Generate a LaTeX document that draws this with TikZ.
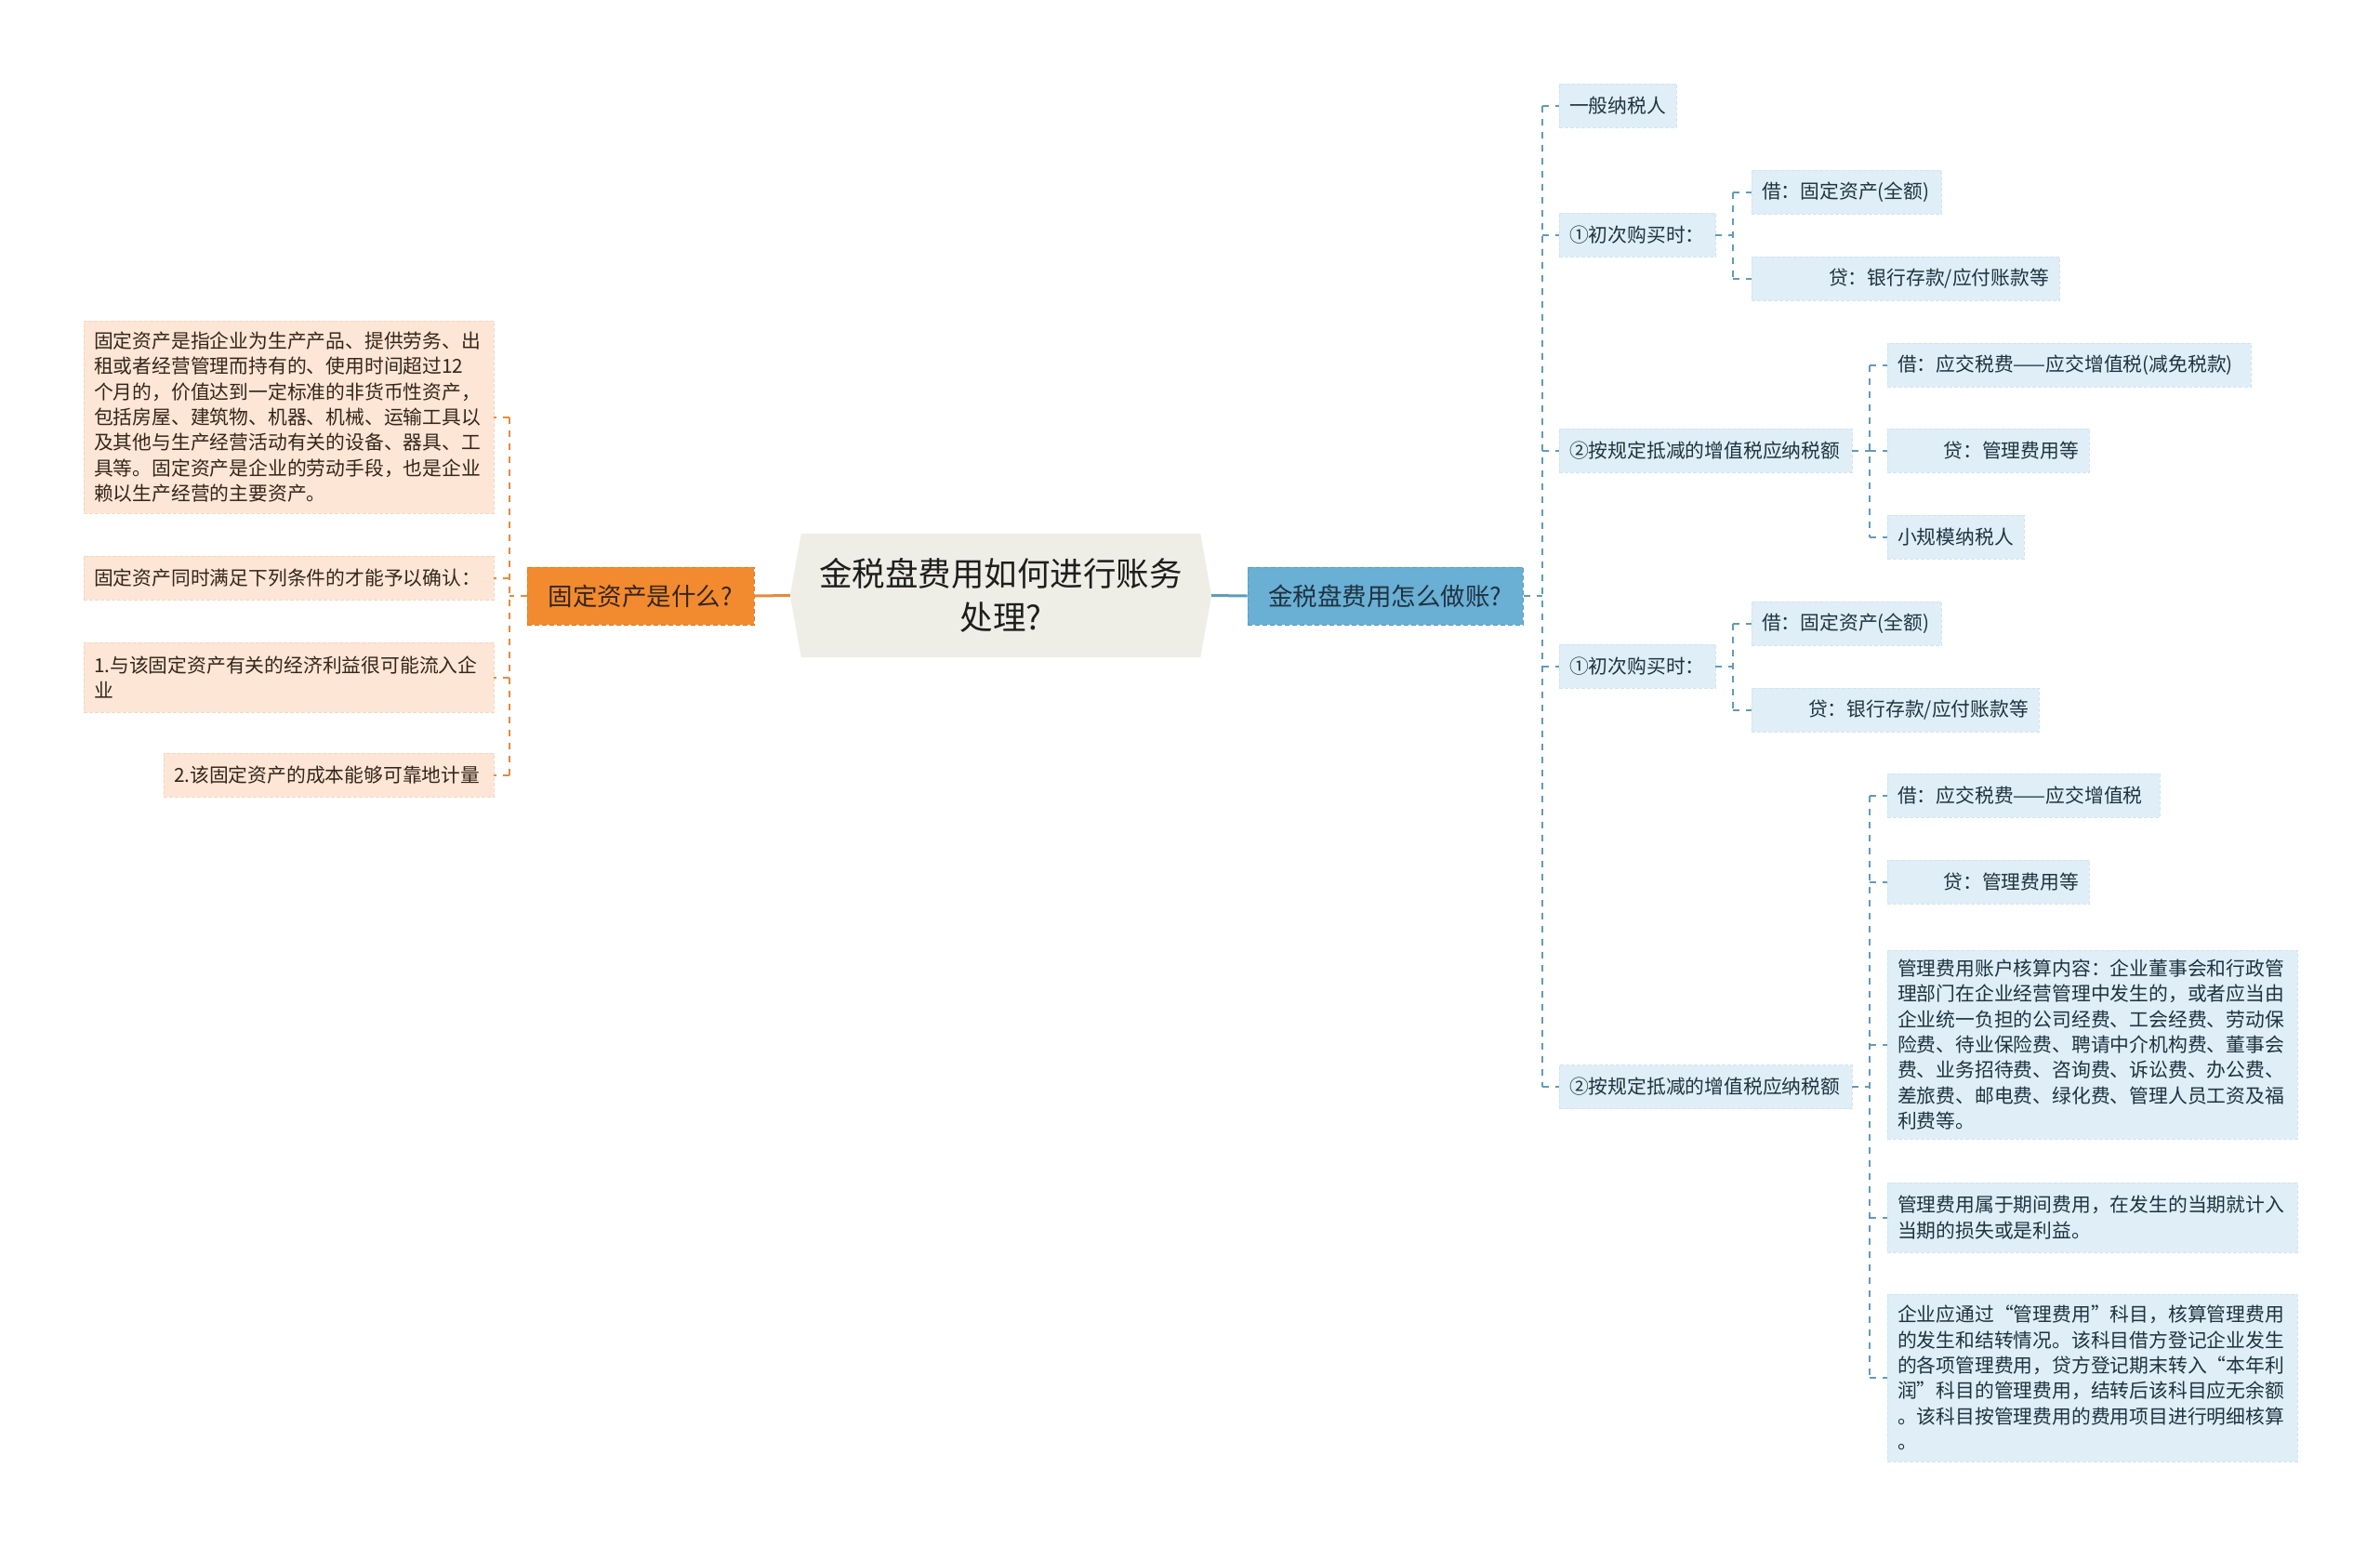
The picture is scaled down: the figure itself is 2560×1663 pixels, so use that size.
\documentclass[tikz,border=0pt]{standalone}
\usepackage{fontspec}
\setmainfont{Noto Sans CJK SC}
\usetikzlibrary{calc,backgrounds}
\definecolor{rootfill}{HTML}{EFEEE6}
\definecolor{roottext}{HTML}{1E1E1E}
\definecolor{ofill}{HTML}{F28B2F}
\definecolor{oborder}{HTML}{DF7A22}
\definecolor{bfill}{HTML}{6AAFD4}
\definecolor{bborder}{HTML}{5A9CC2}
\definecolor{rfill}{HTML}{DFEEF7}
\definecolor{rborder}{HTML}{D0E5F1}
\definecolor{lfill}{HTML}{FDE6D5}
\definecolor{lborder}{HTML}{F6D7C0}
\definecolor{rline}{HTML}{5F9CBB}
\definecolor{lline}{HTML}{E8893A}
\definecolor{rtext}{HTML}{1F3340}
\definecolor{ltext}{HTML}{36251A}
\begin{document}
\begin{tikzpicture}[x=1pt,y=-1pt,
  basebox/.style={inner xsep=11pt, inner ysep=3pt, anchor=center,
    font=\fontsize{20.8}{27.3}\selectfont, line width=0.8pt, dash pattern=on 4pt off 2pt},
  rleaf/.style={basebox, fill=rfill, draw=rborder, text=rtext, minimum height=47pt, align=left},
  rleafr/.style={basebox, fill=rfill, draw=rborder, text=rtext, minimum height=47pt, align=right},
  lleaf/.style={basebox, fill=lfill, draw=lborder, text=ltext, minimum height=47pt, align=left},
  mainbox/.style={inner sep=4pt, anchor=center, minimum height=62pt,
    font=\fontsize{26.5}{32}\selectfont, line width=1pt, dash pattern=on 5pt off 3pt},
  rconn/.style={draw=rline, line width=2pt, dash pattern=on 7pt off 7pt},
  lconn/.style={draw=lline, line width=2pt, dash pattern=on 7pt off 7pt},
  rmain/.style={draw=rline, line width=3pt},
  lmain/.style={draw=lline, line width=3pt}
]
\useasboundingbox (0,0) rectangle (2560,1663);

% root
\node[anchor=center, minimum width=453pt, minimum height=133pt, align=center,
  text=roottext, font=\fontsize{35.5}{47}\selectfont] (root) at (1076.5,640.5)
  {金税盘费用如何进行账务\\处理?};
\begin{scope}[on background layer]
\fill[white] (0,0) rectangle (2560,1663);
\fill[rootfill] ([xshift=12pt]root.north west) -- (root.west) -- ([xshift=12pt]root.south west)
  -- ([xshift=-12pt]root.south east) -- (root.east) -- ([xshift=-12pt]root.north east) -- cycle;
\end{scope}

% main branches
\node[mainbox, fill=ofill, draw=oborder, text=ltext, minimum width=244pt] (fq) at (689,641) {固定资产是什么?};
\node[mainbox, fill=bfill, draw=bborder, text=rtext, minimum width=296pt] (blue) at (1490,641) {金税盘费用怎么做账?};
\draw[lmain] (root.west) -- (fq.east);
\draw[rmain] (root.east) -- (blue.west);

% left leaves
\node[lleaf, minimum width=441pt, minimum height=207pt, text width=419pt] (L1) at (310.5,448.5)
 {固定资产是指企业为生产产品、提供劳务、出\\租或者经营管理而持有的、使用时间超过12\\个月的，价值达到一定标准的非货币性资产，\\包括房屋、建筑物、机器、机械、运输工具以\\及其他与生产经营活动有关的设备、器具、工\\具等。固定资产是企业的劳动手段，也是企业\\赖以生产经营的主要资产。};
\node[lleaf, minimum width=441pt, text width=419pt] (L2) at (310.5,621.5) {固定资产同时满足下列条件的才能予以确认：};
\node[lleaf, minimum width=441pt, minimum height=75pt, text width=419pt] (L3) at (310.5,728.5) {1.与该固定资产有关的经济利益很可能流入企\\业};
\node[lleaf, minimum width=355pt, text width=333pt] (L4) at (353.5,833.5) {2.该固定资产的成本能够可靠地计量};

\coordinate (jL) at ($(fq.west)+(-19,0)$);
\draw[lconn] (fq.west) -- (jL);
\draw[lconn] (jL |- L1.east) -- (jL |- L4.east);
\foreach \n in {L1,L2,L3,L4} \draw[lconn] (jL |- \n.east) -- (\n.east);

% right level 2
\node[rleaf, minimum width=126pt, text width=104pt] (A) at (1740,113.5) {一般纳税人};
\node[rleaf, minimum width=168pt, text width=146pt] (B) at (1761,252.5) {①初次购买时：};
\node[rleaf, minimum width=315pt, text width=293pt] (C) at (1834.5,484.5) {②按规定抵减的增值税应纳税额};
\node[rleaf, minimum width=168pt, text width=146pt] (D) at (1761,716.5) {①初次购买时：};
\node[rleaf, minimum width=315pt, text width=293pt] (E) at (1834.5,1169) {②按规定抵减的增值税应纳税额};

\coordinate (jR) at ($(blue.east)+(20,0)$);
\draw[rconn] (blue.east) -- (jR);
\draw[rconn] (jR |- A.west) -- (jR |- E.west);
\foreach \n in {A,B,C,D,E} \draw[rconn] (jR |- \n.west) -- (\n.west);

% B children
\node[rleaf, minimum width=204pt, text width=182pt] (B1) at (1986,206.5) {借：固定资产(全额)};
\node[rleafr, minimum width=331pt, text width=309pt] (B2) at (2049.5,299.5) {贷：银行存款/应付账款等};
\coordinate (jB) at ($(B.east)+(19,0)$);
\draw[rconn] (B.east) -- (jB);
\draw[rconn] (jB |- B1.west) -- (jB |- B2.west);
\foreach \n in {B1,B2} \draw[rconn] (jB |- \n.west) -- (\n.west);

% C children
\node[rleaf, minimum width=391pt, text width=369pt] (C1) at (2225.5,392.5) {借：应交税费——应交增值税(减免税款)};
\node[rleafr, minimum width=217pt, text width=195pt] (C2) at (2138.5,484.5) {贷：管理费用等};
\node[rleaf, minimum width=147pt, text width=125pt] (C3) at (2103.5,577.5) {小规模纳税人};
\coordinate (jC) at ($(C.east)+(19,0)$);
\draw[rconn] (C.east) -- (jC);
\draw[rconn] (jC |- C1.west) -- (jC |- C3.west);
\foreach \n in {C1,C2,C3} \draw[rconn] (jC |- \n.west) -- (\n.west);

% D children
\node[rleaf, minimum width=204pt, text width=182pt] (D1) at (1986,670.5) {借：固定资产(全额)};
\node[rleafr, minimum width=309pt, text width=287pt] (D2) at (2038.5,763.5) {贷：银行存款/应付账款等};
\coordinate (jD) at ($(D.east)+(19,0)$);
\draw[rconn] (D.east) -- (jD);
\draw[rconn] (jD |- D1.west) -- (jD |- D2.west);
\foreach \n in {D1,D2} \draw[rconn] (jD |- \n.west) -- (\n.west);

% E children
\node[rleaf, minimum width=293pt, text width=271pt] (E1) at (2176.5,855.5) {借：应交税费——应交增值税};
\node[rleafr, minimum width=217pt, text width=195pt] (E2) at (2138.5,948.5) {贷：管理费用等};
\node[rleaf, minimum width=441pt, minimum height=203pt, text width=419pt] (E3) at (2250.5,1123.5)
 {管理费用账户核算内容：企业董事会和行政管\\理部门在企业经营管理中发生的，或者应当由\\企业统一负担的公司经费、工会经费、劳动保\\险费、待业保险费、聘请中介机构费、董事会\\费、业务招待费、咨询费、诉讼费、办公费、\\差旅费、邮电费、绿化费、管理人员工资及福\\利费等。};
\node[rleaf, minimum width=441pt, minimum height=75pt, text width=419pt] (E4) at (2250.5,1309.5)
 {管理费用属于期间费用，在发生的当期就计入\\当期的损失或是利益。};
\node[rleaf, minimum width=441pt, minimum height=180pt, text width=419pt] (E5) at (2250.5,1482)
 {企业应通过“管理费用”科目，核算管理费用\\的发生和结转情况。该科目借方登记企业发生\\的各项管理费用，贷方登记期末转入“本年利\\润”科目的管理费用，结转后该科目应无余额\\。该科目按管理费用的费用项目进行明细核算\\。};
\coordinate (jE) at ($(E.east)+(19,0)$);
\draw[rconn] (E.east) -- (jE);
\draw[rconn] (jE |- E1.west) -- (jE |- E5.west);
\foreach \n in {E1,E2,E3,E4,E5} \draw[rconn] (jE |- \n.west) -- (\n.west);
\end{tikzpicture}
\end{document}
